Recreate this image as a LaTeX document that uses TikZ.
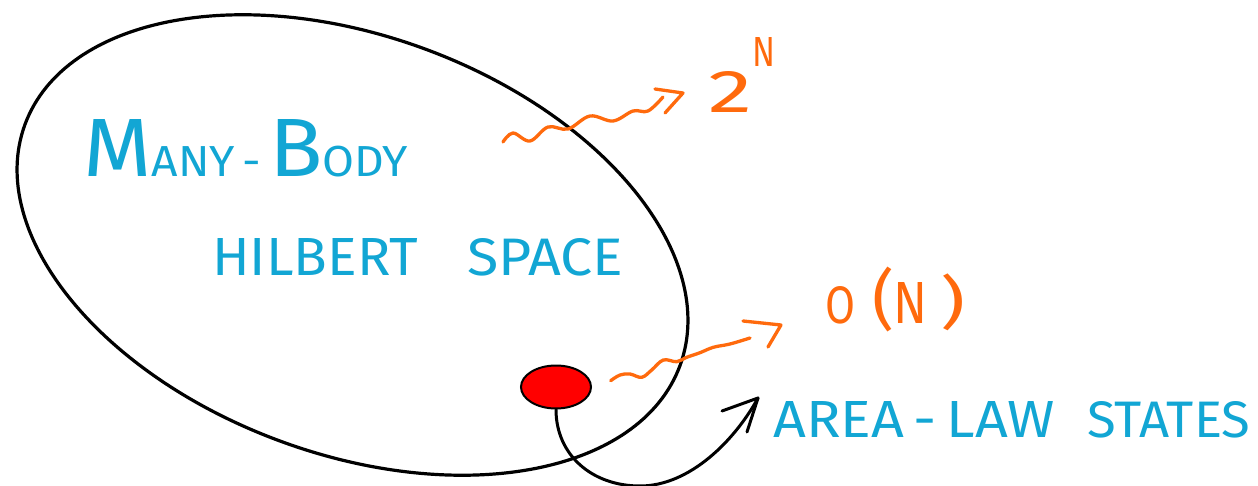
\documentclass[tikz,border=0pt]{standalone}
\usepackage{fontspec}
\usepackage{graphicx}
\newfontfamily\handfont{Fira Sans}
\usetikzlibrary{shapes.geometric}
\definecolor{ink}{HTML}{12A6D4}
\definecolor{orng}{HTML}{FF6A0D}
\begin{document}
\begin{tikzpicture}[x=1pt,y=-1pt,
  cyantext/.style={text=ink, inner sep=0pt, font=\handfont\fontsize{50}{50}\selectfont},
  orangetext/.style={text=orng, inner sep=0pt, font=\handfont\fontsize{50}{50}\selectfont},
  blk/.style={draw=black, line width=3pt, line cap=round, line join=round},
  wave/.style={draw=orng, line width=3.3pt, line cap=round, line join=round}]
\fill[white] (0,0) rectangle (1258,486);
\useasboundingbox (0,0) rectangle (1258,486);

% Hilbert space
\node[draw=black, line width=3.2pt, ellipse, rotate=-20.2, minimum width=698pt, minimum height=418pt, inner sep=0pt] (space) at (352.5,245) {};

% labels inside
\node[cyantext, anchor=base west] (many) at (83,177)
  {\resizebox{325pt}{57pt}{\fontsize{80}{80}\selectfont M\fontsize{42}{42}\selectfont ANY\,-\,\fontsize{80}{80}\selectfont B\fontsize{42}{42}\selectfont ODY}};
\node[cyantext, anchor=base west] (hilbert) at (212,276)
  {\resizebox{206pt}{37pt}{HILBERT}\hspace{49pt}\resizebox{156pt}{37pt}{SPACE}};

% area-law blob
\node[ellipse, fill=red, draw=black, line width=2pt, minimum width=70pt, minimum height=43pt, inner sep=0pt] (blob) at (556,387) {};

% exponential label
\node[orangetext, anchor=base west] (twoN) at (708,113)
  {\resizebox{44pt}{41pt}{2}\raisebox{46pt}{\resizebox{23pt}{29pt}{N}}};
% linear label
\node[orangetext, anchor=base west] (ON) at (825,323)
  {\resizebox{30pt}{37pt}{O}\hspace{17pt}\resizebox*{22pt}{65pt}{(}\hspace{-1pt}\resizebox{34pt}{41pt}{N}\hspace{13pt}\resizebox*{25pt}{57pt}{)}};
% area-law label
\node[cyantext, anchor=base west] (area) at (773,437)
  {\resizebox{282pt}{36pt}{AREA\,-\,LAW}\hspace{32pt}\resizebox{163pt}{36pt}{STATES}};

% wavy arrow to 2^N
\coordinate (w1s) at (503,142);
\coordinate (w1e) at (663,97);
\coordinate (w1t) at (683,93);
\draw[wave] plot[smooth, tension=0.6] coordinates {(w1s) (513,133) (530,141) (548,127) (568,129) (590,116) (613,121) (633,111) (648,111) (w1e)};
\draw[wave] (655,89) -- (w1t) -- (665,113);

% wavy arrow to O(N)
\coordinate (w2s) at (610.7,380.7);
\coordinate (w2e) at (750,338);
\coordinate (w2t) at (781,325);
\draw[wave] plot[smooth, tension=0.6] coordinates {(w2s) (620,375) (630,374) (641.7,377.3) (651.7,370) (663.3,360) (676.7,361.7) (686.7,357.3) (700,352.7) (713.3,347.3) (730,344) (w2e)};
\draw[wave] (743,321) -- (w2t) -- (768,347);

% arrow from blob to its label
\coordinate (tipA) at (758,398);
\draw[blk] (blob.south) .. controls (556,455) and (592,486) .. (640,486) .. controls (690,486) and (735,440) .. (tipA);
\draw[blk] (722,411) -- (tipA) -- (747,432);
\end{tikzpicture}
\end{document}
